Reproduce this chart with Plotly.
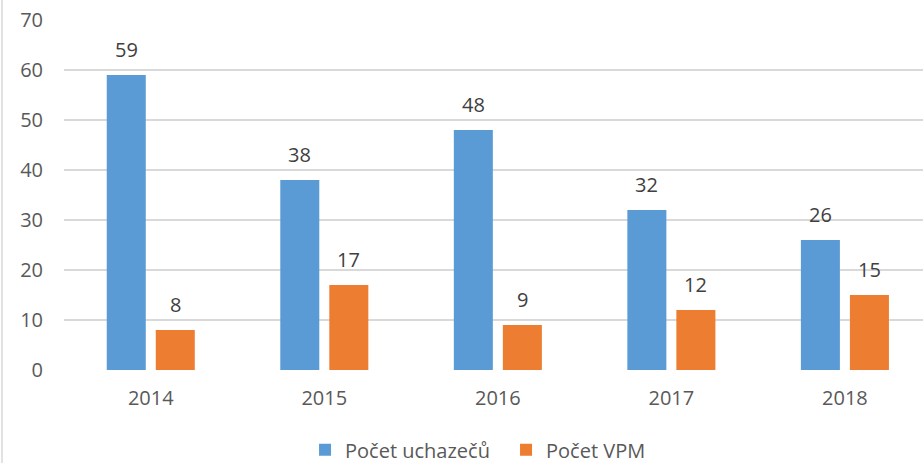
import plotly.graph_objects as go

years = ["2014", "2015", "2016", "2017", "2018"]
uchazeci = [59, 38, 48, 32, 26]
vpm = [8, 17, 9, 12, 15]
series_names = ["Počet uchazečů", "Počet VPM"]
colors = ["#5B9BD5", "#ED7D31"]
y_ticks = [0, 10, 20, 30, 40, 50, 60, 70]

FONT = "Open Sans"
fig = go.Figure()
for name, vals, col in zip(series_names, [uchazeci, vpm], colors):
    fig.add_trace(go.Bar(x=years, y=vals, name=name, marker=dict(color=col, line=dict(width=0))))

annotations = []
slot = 0.2824
for i, vals in enumerate([uchazeci, vpm]):
    off = (-0.5 + i) * slot
    for j, v in enumerate(vals):
        annotations.append(dict(xref="x", yref="y", x=j + off, y=v, text=str(v), showarrow=False,
                                yanchor="bottom", yshift=10,
                                font=dict(family=FONT, size=20, color="#404040")))

fig.update_layout(
    width=923, height=463,
    margin=dict(l=64, r=0, t=20, b=93, autoexpand=False),
    paper_bgcolor="white", plot_bgcolor="white",
    barmode="group", bargap=0.435, bargroupgap=0.204,
    font=dict(family=FONT, size=20, color="#595959"),
    annotations=annotations,
    showlegend=True,
    legend=dict(orientation="h", x=0.2806, xanchor="left", y=-0.228, yanchor="middle",
                font=dict(family=FONT, size=20, color="#595959"), itemwidth=30,
                entrywidth=156, entrywidthmode="pixels",
                traceorder="normal", borderwidth=0, bgcolor="rgba(0,0,0,0)"),
    shapes=[dict(type="line", xref="paper", yref="paper", x0=-0.0722, x1=-0.0722,
                 y0=-0.3, y1=1.06, line=dict(color="#D9D9D9", width=1.5))],
)
fig.update_xaxes(type="category", range=[-0.5, 4.45], showgrid=False, zeroline=False, showline=False,
                 ticks="", ticklabelstandoff=14, tickfont=dict(size=20, color="#595959"))
fig.update_yaxes(range=[0, 70], tickvals=y_ticks, showgrid=True, gridcolor="#D9D9D9",
                 gridwidth=1.5, zeroline=False, showline=False, ticks="",
                 ticklabelstandoff=20, tickfont=dict(size=20, color="#595959"))

fig.write_html("out.html", config={"displayModeBar": False},
               post_script="document.body.style.margin='0';document.body.style.overflow='hidden';")
